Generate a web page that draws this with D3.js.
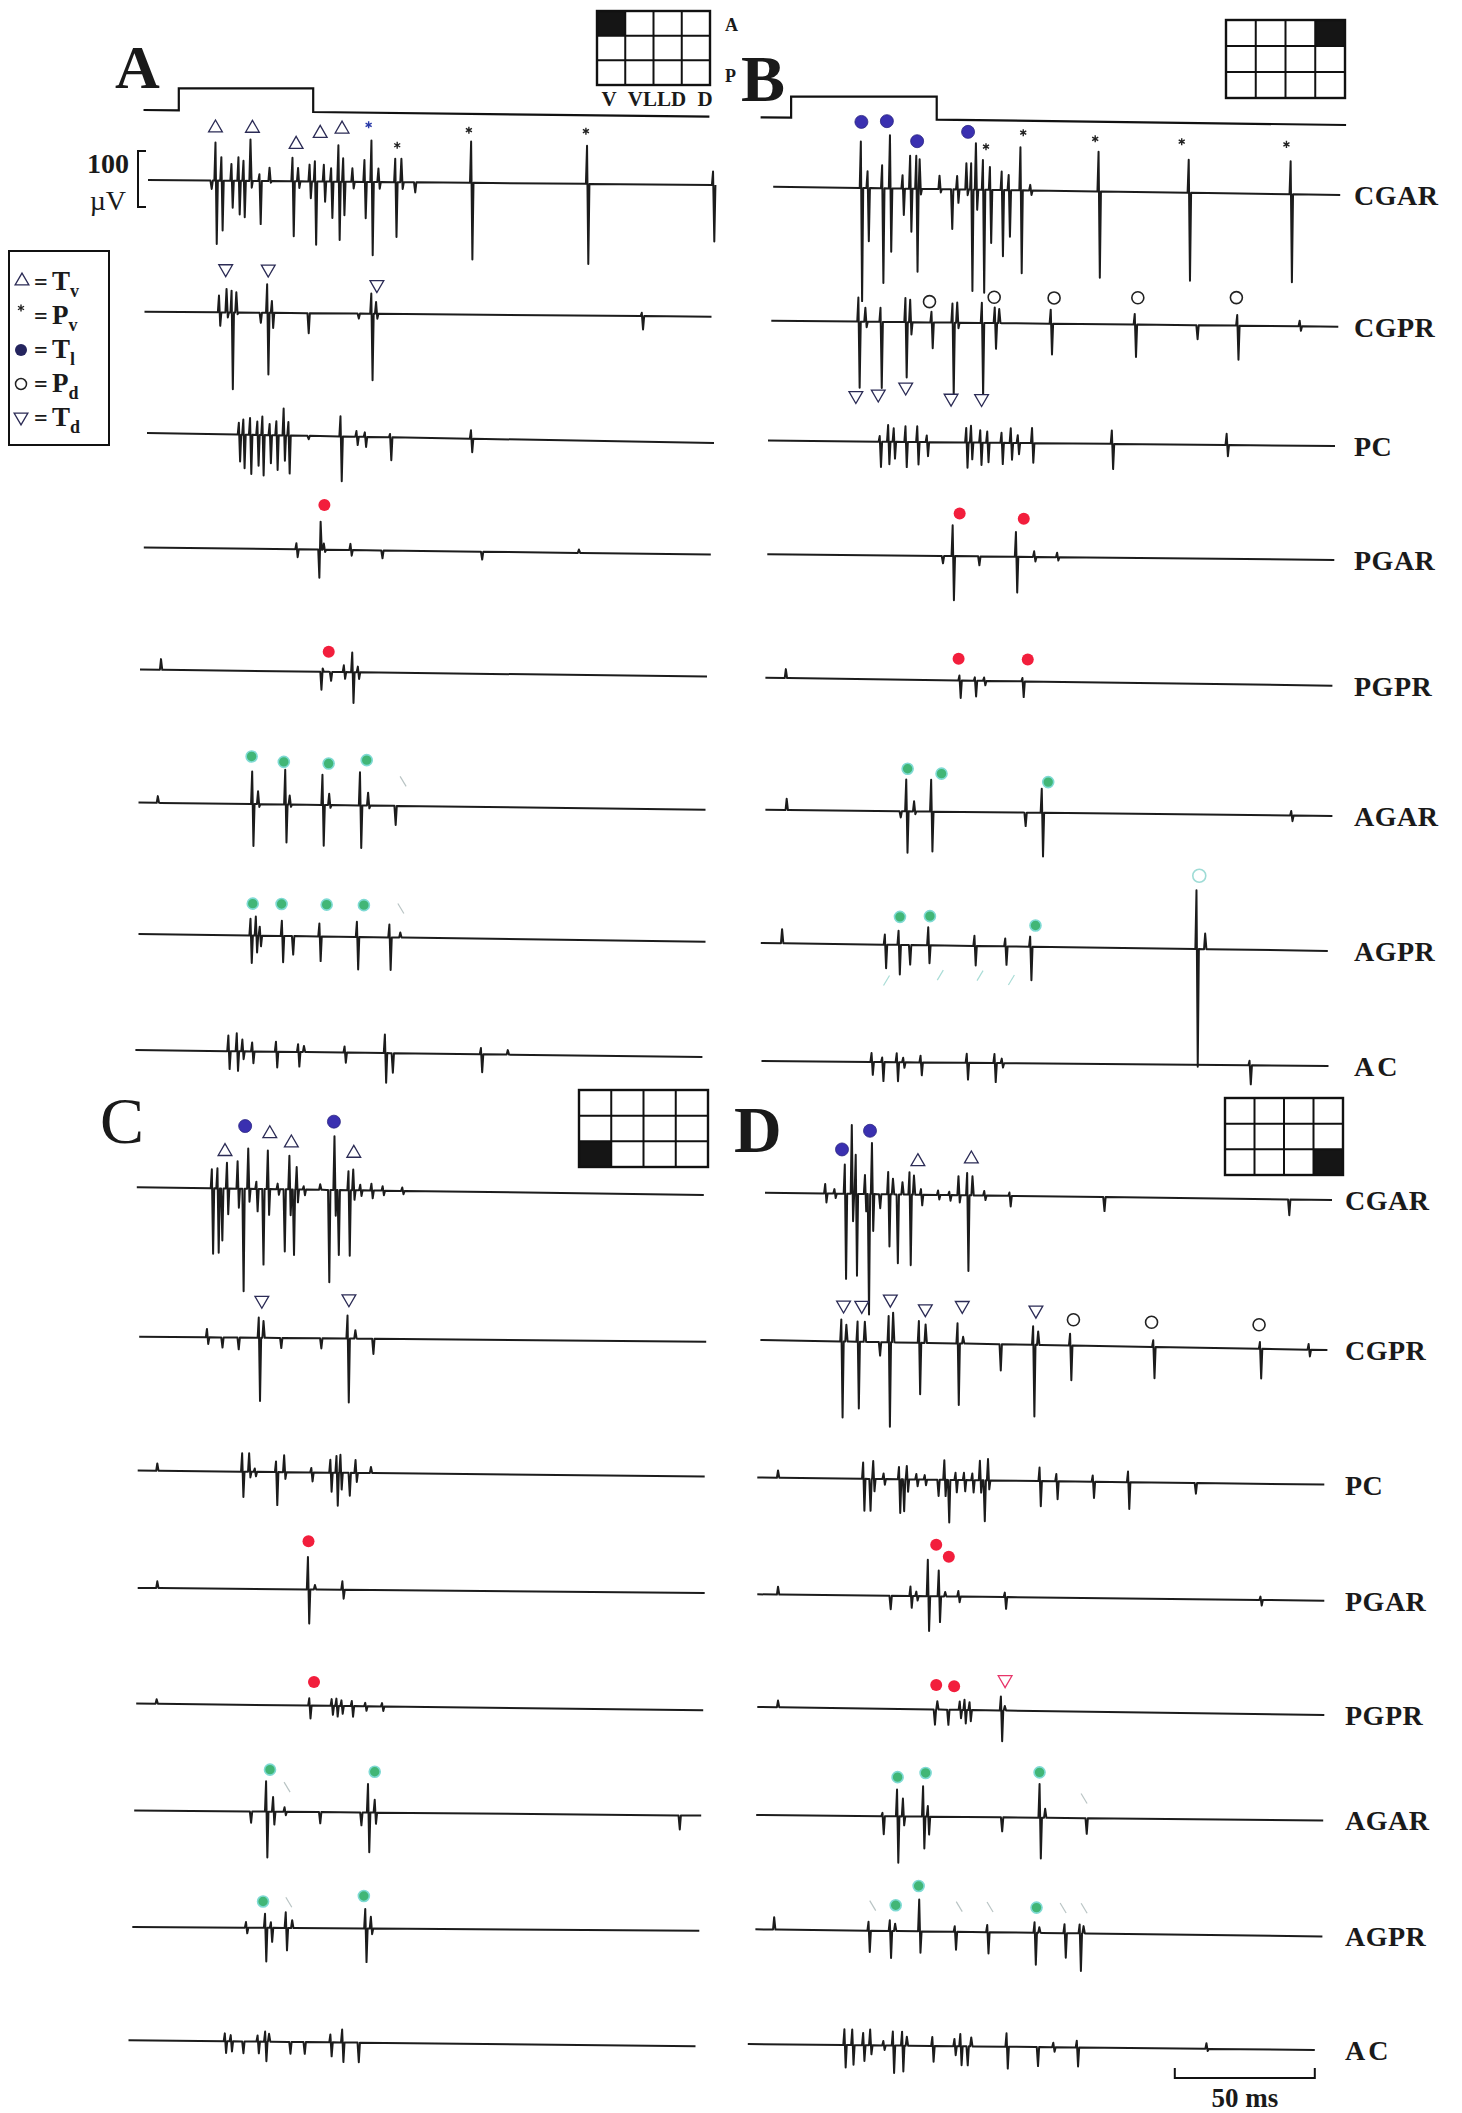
<!DOCTYPE html>
<html>
<head>
<meta charset="utf-8">
<script src="https://cdn.jsdelivr.net/npm/d3@7"></script>
<style>
body { margin: 0; background: #fff; }
svg text { font-family: "Liberation Serif", "Times New Roman", serif; fill: #1a1a1a; }
</style>
</head>
<body>
<div id="chart"></div>
<script>
// --- data: times in ms from trace start, amplitudes in µV (up +, down -) ---
const channels = ["CGAR", "CGPR", "PC", "PGAR", "PGPR", "AGAR", "AGPR", "AC"]
const timeSpan = [0, 202.5]
const scaleBarMs = [152.5, 202.5]
const scaleBarUv = 100
// stimulus step: start, on, off, end (ms)
const stimA = [-1.6, 11, 59, 200.5]
const stimB = [-4.5, 6.4, 58.4, 204.6]
// filled cell of the 3x4 electrode map: [row, col]
const mapCell = { A: [0, 0], B: [0, 3], C: [2, 0], D: [2, 3] }
const mapColLabels = ["V", "VLLD", "D"]
const mapRowLabels = ["A", "P"]

// spikes per channel: [t, first peak, second peak]
const spikesA = [
  [[22.5,0,-15],[24.3,68,-113],[26.4,42,-89],[30,30,-48],[32.5,42,-60],[34.3,36,-65],[36.8,74,-12],[40,12,-77],[43.6,24,-3],[51.8,42,-98],[53.8,24,-12],[57.9,30,-30],[59.8,36,-113],[63,30,-36],[65.6,24,-65],[68.2,65,-104],[69.9,42,-60],[73.2,24,-12],[77.5,39,-65],[80,74,-131],[82.5,24,-12],[88.5,42,-98],[90.7,42,-12],[95.2,0,-18],[115.6,74,-137],[157,68,-143],[202,24,-101]],
  [[26.8,30,-24],[29.5,42,-9],[31.3,39,-137],[33,36,-3],[41.3,0,-18],[44,51,-110],[45.7,21,-27],[58.4,0,-36],[76.3,0,-9],[81.2,36,-119],[82.9,21,-9],[177.8,6,-24]],
  [[33,21,-48],[34.6,27,-60],[37,30,-70],[39.6,24,-55],[41.4,33,-72],[44,20,-50],[46.4,25,-62],[49,48,-45],[50.7,24,-68],[57.5,0,-6],[69.3,36,-80],[75,10,-15],[78,8,-18],[87,6,-41],[115.9,15,-24]],
  [[54.7,11,-14],[62.9,-50,50],[64.5,11,-4],[74,11,-10],[85,0,-14],[120.6,0,-14],[155.6,6,0]],
  [[7.7,19,0],[65,-32,6],[68,0,-16],[73,12,-12],[76,35,-55],[78,10,-12]],
  [[7.1,12,0],[40.8,58,-75],[42.9,23,-5],[52.6,62,-68],[54.2,16,-4],[65.9,54,-73],[68.3,20,-5],[79.3,59,-76],[82.2,23,-5],[91.6,0,-34]],
  [[40.2,30,-49],[42.1,34,-30],[43.5,16,-19],[51.4,27,-47],[55,0,-33],[64.8,23,-44],[78.2,27,-58],[89.8,23,-58],[93.7,9,0]],
  [[33.4,28,-32],[36.4,32,-35],[38.4,21,-14],[41.9,16,-21],[50.4,18,-28],[58.3,14,-26],[60.4,11,0],[74.9,11,-18],[89.3,33,-53],[91.7,0,-35],[123.6,11,-32],[133.2,8,0]]
]
const spikesB = [
  [[31.5,83,-202],[33.9,30,-95],[39.1,41,-169],[41.9,95,-113],[46.4,24,-47],[49.1,59,-77],[51.3,59,-148],[52.5,53,-10],[59.6,24,-6],[63.7,0,-71],[65.9,24,-24],[69.2,47,-10],[70.9,47,-181],[72.6,83,-36],[75.1,53,-184],[77.6,41,-95],[81.8,33,-118],[84.3,27,-83],[88.5,77,-148],[92,10,-8],[116.4,71,-154],[148.6,59,-157],[185,59,-157]],
  [[31.3,43,-118],[33.8,25,-10],[39.2,25,-118],[48.1,43,-99],[49.8,40,-22],[57.4,19,-46],[64.9,34,-130],[66.6,36,-10],[75.4,36,-130],[80,28,-46],[81.6,25,0],[100,25,-55],[130,19,-58],[152,0,-25],[166.6,19,-61],[188.9,10,-8]],
  [[40.1,10,-45],[43.1,30,-40],[45.1,24,-30],[49.3,28,-45],[53.5,28,-40],[56.9,12,-25],[71,26,-45],[72.7,30,-30],[76,22,-40],[78.5,20,-35],[83.6,18,-38],[86.9,26,-30],[89.4,14,-20],[94.5,27,-35],[123,24,-45],[164,20,-20]],
  [[62.5,0,-13],[66.4,55,-79],[75.5,0,-16],[89,44,-64],[95.5,10,-8],[103.7,8,-6]],
  [[7.5,16,0],[69.5,9,-31],[75,6,-28],[78.3,6,-8],[92,6,-28]],
  [[7.8,20,0],[48.1,0,-11],[50.5,57,-74],[53.3,18,-5],[59.4,57,-71],[92.7,0,-24],[98.9,43,-78],[188,8,-10]],
  [[7.8,25,0],[44.5,18,-42],[49.4,25,-53],[53.1,0,-35],[60,32,-32],[76.5,18,-35],[87.5,14,-33],[96.4,18,-60],[155.8,105,-210],[158.9,28,0]],
  [[39.5,16,-23],[43.3,8,-34],[48.5,16,-34],[50.8,8,-10],[57,12,-23],[73.5,16,-30],[83.4,16,-34],[86,8,-8],[174.5,8,-34]]
]
const spikesC = [
  [[27,34,-117],[29,36,-115],[30.3,0,-93],[32.4,46,-46],[36.2,49,-34],[37.9,0,-183],[40,72,-23],[42.9,13,-40],[45,0,-135],[47,69,-46],[50.5,10,-10],[52.6,0,-111],[54.7,60,-46],[55.9,0,-117],[57.3,40,-23],[59.8,6,-10],[65.7,10,0],[68.5,0,-165],[70.8,96,-46],[71.9,0,-116],[75.8,34,-117],[77.5,37,-17],[80,10,-10],[84,12,-14],[88,8,-8],[95,6,-6]],
  [[24.4,15,-12],[29.5,0,-18],[35.3,0,-21],[42.9,36,-113],[44.6,30,0],[50.5,0,-18],[64.8,0,-18],[74.6,41,-114],[77.4,15,0],[83.4,0,-27]],
  [[7.2,13,0],[37.5,33,-45],[40,33,-10],[42,6,-8],[49.6,19,-59],[52.5,30,-12],[62.2,8,-16],[69,23,-34],[71.2,30,-59],[72.6,32,-30],[75.5,0,-41],[78,23,-16],[83.5,11,0]],
  [[7.2,12,0],[61,58,-61],[63.5,8,0],[73.3,15,-16]],
  [[7.5,8,0],[62,13,-23],[70,12,-16],[71.7,13,-19],[73.5,10,-14],[77.2,9,-19],[82,6,-8],[88,6,-8]],
  [[41.5,0,-20],[47.3,54,-82],[49.8,26,-23],[53.9,8,-6],[66.2,0,-20],[80.9,0,-23],[83.7,51,-71],[86.1,23,-20],[194.6,0,-25]],
  [[40.8,10,-10],[47.6,25,-60],[49.7,10,-25],[55,28,-40],[57.3,14,0],[83.4,35,-60],[85.4,21,-10]],
  [[34.6,14,-21],[36.7,11,-18],[40.8,0,-21],[46.3,11,-21],[49,18,-35],[50.4,14,0],[57.6,0,-21],[62.7,0,-21],[72.3,14,-25],[76.5,23,-35],[82,0,-35]]
]
const spikesD = [
  [[21.7,17,-16],[25,8,-8],[28.7,52,-152],[31.2,123,-49],[32.6,70,-146],[35.9,34,-31],[36.9,0,-215],[38.4,91,-66],[40.9,0,-25],[44.2,40,-93],[45.9,28,0],[47.2,0,-123],[49.3,22,0],[51.8,40,-126],[53.4,34,0],[55.9,10,-19],[62,8,-8],[66,6,-10],[69.3,34,-13],[72.4,40,-135],[74.3,34,0],[78.5,8,-8],[87.5,6,-19],[121,0,-25],[187,0,-28]],
  [[29.1,39,-136],[30.9,30,0],[34.9,36,-119],[37.5,36,0],[42.5,0,-24],[46,47,-151],[47.6,53,0],[56.8,39,-92],[59.2,33,0],[70.6,36,-110],[72.6,12,0],[85.6,0,-47],[97.6,33,-128],[99.4,24,0],[110.8,21,-62],[140.5,12,-56],[178.6,12,-53],[196,10,-12]],
  [[7.6,13,0],[38,29,-57],[40.2,0,-57],[41.6,32,-22],[45.3,10,-10],[50.8,22,-60],[52.2,0,-57],[53.6,24,-22],[57,10,-12],[60,8,-10],[64.5,0,-29],[67,35,-29],[68.3,0,-76],[71,13,-22],[74,13,-20],[77,12,-22],[79.7,35,-22],[81,0,-73],[82.6,38,-16],[101,24,-45],[107,13,-32],[120,11,-29],[132.6,19,-48],[156.4,0,-19]],
  [[7.6,14,0],[47.4,0,-24],[54.9,17,-21],[57,8,-8],[61.1,65,-62],[65,46,-46],[67.3,8,0],[72,10,-10],[88.6,8,-21],[179.9,6,-10]],
  [[7.6,12,0],[63.2,0,-27],[64.5,15,0],[68,0,-27],[72.5,15,-15],[74.2,18,-24],[76,14,-20],[87.2,25,-55],[88.6,8,0]],
  [[45.3,6,-32],[50.5,48,-83],[52.6,32,-16],[59.8,54,-57],[61.5,19,-32],[87.6,0,-25],[101.4,60,-73],[103.4,16,0],[117.8,0,-28]],
  [[6.9,22,0],[40.6,16,-38],[48.2,19,-48],[50.1,13,0],[58.7,57,-38],[71.4,10,-32],[83,13,-38],[99.9,19,-57],[101.6,10,0],[110.6,16,-44],[116,16,-67],[117.4,13,0]],
  [[34.7,28,-40],[37.5,28,-35],[41.4,22,-28],[43.9,28,-16],[48.6,8,-8],[52,25,-49],[55.3,25,-46],[57,16,0],[66.1,16,-28],[74,13,-16],[76.1,22,-34],[78.3,0,-34],[80,16,0],[92.6,24,-39],[103.4,0,-34],[109.3,8,-8],[117.7,12,-34],[164,10,-4]]
]

// unit marks: [channel index, t, µV above baseline, type]
const marksA = [
  [0,24.1,94,"Tv"],[0,37.3,94,"Tv"],[0,52.9,66,"Tv"],[0,61.5,86,"Tv"],[0,69.3,94,"Tv"],
  [0,78.8,102,"PvB"],[0,89,66,"Pv"],[0,114.6,94,"Pv"],[0,156.4,94,"Pv"],
  [1,29,78,"Td"],[1,44.2,78,"Td"],[1,83,52,"Td"],
  [3,64.5,80,"red"],[4,67.4,36,"red"],
  [5,40.4,85,"green"],[5,51.9,76,"green"],[5,67.9,74,"green"],[5,81.5,81,"green"],[5,94.5,44,"faint"],
  [6,40.8,57,"green"],[6,51.1,57,"green"],[6,67.2,57,"green"],[6,80.5,57,"green"],[6,93.7,52,"faint"]
]
const marksB = [
  [0,31.5,118,"Tl"],[0,40.6,120,"Tl"],[0,51.4,85,"Tl"],[0,69.6,103,"Tl"],
  [0,76,77,"Pv"],[0,89.3,103,"Pv"],[0,115,94,"Pv"],[0,145.9,91,"Pv"],[0,183.3,89,"Pv"],
  [1,30.2,-132,"Td"],[1,38.2,-129,"Td"],[1,48,-116,"Td"],[1,64.2,-135,"Td"],[1,75.1,-135,"Td"],
  [1,56.5,37,"Pd"],[1,79.6,46,"Pd"],[1,101,46,"Pd"],[1,130.9,48,"Pd"],[1,166.1,50,"Pd"],
  [3,68.7,76,"red"],[3,91.6,68,"red"],
  [4,69,39,"red"],[4,93.7,39,"red"],
  [5,50.8,76,"green"],[5,62.9,68,"green"],[5,101,55,"green"],
  [6,49.7,50,"green"],[6,60.4,52,"green"],[6,98.1,38,"green"],[6,156.6,131,"PdC"],
  [6,44.9,-64,"faintB"],[6,64.1,-53,"faintB"],[6,78.3,-53,"faintB"],[6,89.5,-60,"faintB"]
]
const marksC = [
  [0,38.7,112,"Tl"],[0,70.4,122,"Tl"],
  [0,31.5,66,"Tv"],[0,47.5,99,"Tv"],[0,55.2,83,"Tv"],[0,77.5,66,"Tv"],
  [1,43.8,67,"Td"],[1,74.9,71,"Td"],
  [3,61,86,"red"],[4,63.5,42,"red"],
  [5,48.5,75,"green"],[5,85.9,73,"green"],[5,54.6,44,"faint"],
  [6,46.7,47,"green"],[6,82.7,58,"green"],[6,55.9,46,"faint"]
]
const marksD = [
  [0,27.5,79,"Tl"],[0,37.5,113,"Tl"],
  [0,54.6,59,"Tv"],[0,73.7,65,"Tv"],
  [1,29.7,65,"Td"],[1,36.2,65,"Td"],[1,46.4,77,"Td"],[1,58.9,61,"Td"],[1,72.1,68,"Td"],[1,98.4,62,"Td"],
  [1,111.8,46,"Pd"],[1,139.7,44,"Pd"],[1,178.1,43,"Pd"],
  [3,63.9,92,"red"],[3,68.4,71,"red"],
  [4,63.9,44,"red"],[4,70.3,42,"red"],[4,88.5,55,"TdR"],
  [5,50.5,70,"green"],[5,60.5,78,"green"],[5,101.2,81,"green"],[5,117.1,35,"faint"],
  [6,50.1,46,"green"],[6,58.3,81,"green"],[6,100.4,45,"green"],
  [6,41.9,45,"faint"],[6,72.8,45,"faint"],[6,83.8,45,"faint"],[6,109.9,45,"faint"],[6,117.4,45,"faint"]
]

const legendRows = [["Tv", "T", "v"], ["Pv", "P", "v"], ["Tl", "T", "l"], ["Pd", "P", "d"], ["Td", "T", "d"]]

// --- layout (pixels) ---
const W = 1462, H = 2113
const traceLen = 567
const uvPx = 56 / 100
const panels = [
  { id: "A", spikes: spikesA, marks: marksA,
    x0: [148,144.5,147,143.8,140,138.5,138.5,135.4],
    y0: [180,311.7,433,547.4,669.5,802.6,934,1050],
    y1: [185,316.7,443,554.6,676.6,809.8,941.7,1057],
    letter: [115, 88, 62, "bold"], map: [597, 11, 113, 74], labels: null },
  { id: "B", spikes: spikesB, marks: marksB,
    x0: [773.2,771.3,768,767.3,765.4,765.4,760.8,761.5],
    y0: [186.7,320.7,440.6,554.2,677.8,809.8,942.9,1061],
    y1: [195,326.7,446,560,685.7,816,950.9,1066],
    letter: [741, 101, 66, "bold"], map: [1226, 20, 119, 78], labels: 1354 },
  { id: "C", spikes: spikesC, marks: marksC,
    x0: [136.8,139.2,137.7,137.7,136.2,134.2,132.3,128.5],
    y0: [1187.3,1336.7,1470.6,1587.9,1703.5,1810.4,1926.9,2040.2],
    y1: [1195,1341.7,1476.6,1593,1710.3,1815.6,1930.8,2046.2],
    letter: [100, 1143, 66, "normal"], map: [579, 1090, 129, 77], labels: null },
  { id: "D", spikes: spikesD, marks: marksD,
    x0: [765,760.4,757.3,757.3,757.3,756.2,755.4,747.8],
    y0: [1192.7,1340,1477.5,1594.3,1707,1815,1929.3,2044],
    y1: [1200,1350,1484.6,1600.7,1715,1820.4,1936.4,2050],
    letter: [734, 1152, 66, "bold"], map: [1225, 1098, 118, 77], labels: 1345 }
]

const svg = d3.select("#chart").append("svg")
  .attr("width", W).attr("height", H)

const amp = d3.scaleLinear().domain([0, 100]).range([0, 100 * uvPx])

function traceScales(p, i) {
  const x = d3.scaleLinear().domain(timeSpan).range([p.x0[i], p.x0[i] + traceLen])
  const base = d3.scaleLinear().domain(timeSpan).range([p.y0[i], p.y1[i]])
  return { x, base, y: (t, v) => base(t) - amp(v) }
}

function tracePoints(spk) {
  const pts = [[timeSpan[0], 0]]
  spk.slice().sort((a, b) => a[0] - b[0]).forEach(([t, a1, a2]) => {
    pts.push([t - 0.6, 0], [t - 0.2, a1], [t + 0.25, a2], [t + 0.65, 0])
  })
  pts.push([timeSpan[1], 0])
  // keep time monotonic where spikes overlap
  let last = -Infinity
  return pts.filter(p => { if (p[0] < last) return false; last = p[0]; return true })
}

const star = d3.symbol(d3.symbolAsterisk, 34)
const tri = d3.symbol(d3.symbolTriangle, 82)

function drawMark(g, x, y, type) {
  if (type === "Tv") {
    g.append("path").attr("d", tri()).attr("transform", `translate(${x},${y})`)
      .attr("fill", "#fff").attr("stroke", "#2b2b55").attr("stroke-width", 1.3)
  } else if (type === "Td" || type === "TdR") {
    g.append("path").attr("d", tri()).attr("transform", `translate(${x},${y}) rotate(180)`)
      .attr("fill", "#fff").attr("stroke", type === "TdR" ? "#e8356a" : "#2b2b55").attr("stroke-width", 1.3)
  } else if (type === "Pv" || type === "PvB") {
    g.append("path").attr("d", star()).attr("transform", `translate(${x},${y})`)
      .attr("stroke", type === "PvB" ? "#2a3aa8" : "#222").attr("stroke-width", 1.4)
  } else if (type === "Tl") {
    g.append("circle").attr("cx", x).attr("cy", y).attr("r", 6.5)
      .attr("fill", "#3a30b0").attr("stroke", "#2a2480").attr("stroke-width", 0.8)
  } else if (type === "Pd") {
    g.append("circle").attr("cx", x).attr("cy", y).attr("r", 6)
      .attr("fill", "#fff").attr("stroke", "#222").attr("stroke-width", 1.6)
  } else if (type === "PdC") {
    g.append("circle").attr("cx", x).attr("cy", y).attr("r", 6.5)
      .attr("fill", "none").attr("stroke", "#9fdcd6").attr("stroke-width", 1.6)
  } else if (type === "red") {
    g.append("circle").attr("cx", x).attr("cy", y).attr("r", 6)
      .attr("fill", "#f21e3c")
  } else if (type === "green") {
    g.append("circle").attr("cx", x).attr("cy", y).attr("r", 5.5)
      .attr("fill", "#41b676").attr("stroke", "#7fdad4").attr("stroke-width", 1.6)
  } else if (type === "faint" || type === "faintB") {
    const dx = type === "faintB" ? -3 : 3
    g.append("line").attr("x1", x - dx).attr("y1", y - 5).attr("x2", x + dx).attr("y2", y + 5)
      .attr("stroke", type === "faintB" ? "#a9dcd6" : "#b9c4c4").attr("stroke-width", 1.2)
  }
}

const line = d3.line()

panels.forEach(p => {
  const g = svg.append("g").attr("class", "panel-" + p.id)
  const scales = channels.map((c, i) => traceScales(p, i))

  // traces
  channels.forEach((c, i) => {
    const s = scales[i]
    const pts = tracePoints(p.spikes[i]).map(d => [s.x(d[0]), s.y(d[0], d[1])])
    g.append("path").attr("d", line(pts))
      .attr("fill", "none").attr("stroke", "#1c1c1c")
      .attr("stroke-width", 2).attr("stroke-linejoin", "round")
    if (p.labels) {
      g.append("text").attr("x", p.labels).attr("y", p.y1[i] + 10)
        .attr("font-size", 28).attr("font-weight", "bold")
        .attr("letter-spacing", c === "AC" ? 3 : 0.5)
        .text(c)
    }
  })

  // marks
  p.marks.forEach(([ci, t, v, type]) => {
    const s = scales[ci]
    drawMark(g, s.x(t), s.y(t, v), type)
  })

  // panel letter
  g.append("text").attr("x", p.letter[0]).attr("y", p.letter[1])
    .attr("font-size", p.letter[2]).attr("font-weight", p.letter[3]).text(p.id)

  // electrode map
  const [mx, my, mw, mh] = p.map
  const cw = mw / 4, ch = mh / 3
  const [fr, fc] = mapCell[p.id]
  g.append("rect").attr("x", mx + fc * cw).attr("y", my + fr * ch)
    .attr("width", cw).attr("height", ch).attr("fill", "#151515")
  for (let k = 1; k < 4; k++) {
    g.append("line").attr("x1", mx + k * cw).attr("x2", mx + k * cw)
      .attr("y1", my).attr("y2", my + mh).attr("stroke", "#111").attr("stroke-width", 2)
  }
  for (let k = 1; k < 3; k++) {
    g.append("line").attr("x1", mx).attr("x2", mx + mw)
      .attr("y1", my + k * ch).attr("y2", my + k * ch).attr("stroke", "#111").attr("stroke-width", 2)
  }
  g.append("rect").attr("x", mx).attr("y", my).attr("width", mw).attr("height", mh)
    .attr("fill", "none").attr("stroke", "#111").attr("stroke-width", 2.4)

  // stimulus step above the top trace
  const stim = p.id === "A" ? stimA : p.id === "B" ? stimB : null
  if (stim) {
    const s = scales[0]
    const low = p.id === "A" ? d3.scaleLinear().domain([stim[0], stim[3]]).range([110, 116.7])
                             : d3.scaleLinear().domain([stim[0], stim[3]]).range([117.3, 125])
    const high = p.id === "A" ? 88.3 : 96.7
    const stepPts = [
      [s.x(stim[0]), low(stim[0])], [s.x(stim[1]), low(stim[1])], [s.x(stim[1]), high],
      [s.x(stim[2]), high], [s.x(stim[2]), low(stim[2])], [s.x(stim[3]), low(stim[3])]
    ]
    g.append("path").attr("d", line(stepPts)).attr("fill", "none")
      .attr("stroke", "#111").attr("stroke-width", 2.2)
  }
})

// electrode map labels (panel A)
const mapA = panels[0].map
svg.append("text").attr("x", 725).attr("y", 31).attr("font-size", 18).attr("font-weight", "bold").text(mapRowLabels[0])
svg.append("text").attr("x", 725).attr("y", 82).attr("font-size", 18).attr("font-weight", "bold").text(mapRowLabels[1])
const colX = [609, 657, 705]
mapColLabels.forEach((t, i) => {
  svg.append("text").attr("x", colX[i]).attr("y", mapA[1] + mapA[3] + 21)
    .attr("text-anchor", "middle").attr("font-size", 21).attr("font-weight", "bold").text(t)
})

// 100 µV calibration bracket
const sA = traceScales(panels[0], 0)
const bx = 138
const by0 = sA.base(0) - amp(scaleBarUv / 2) - 1, by1 = sA.base(0) + amp(scaleBarUv / 2) - 1
svg.append("path").attr("d", line([[bx + 8, by0], [bx, by0], [bx, by1], [bx + 8, by1]]))
  .attr("fill", "none").attr("stroke", "#111").attr("stroke-width", 2)
svg.append("text").attr("x", 129).attr("y", 173).attr("text-anchor", "end")
  .attr("font-size", 28).attr("font-weight", "bold").text("100")
svg.append("text").attr("x", 126).attr("y", 210).attr("text-anchor", "end")
  .attr("font-size", 28).text("µV")

// legend
svg.append("rect").attr("x", 9).attr("y", 251).attr("width", 100).attr("height", 194)
  .attr("fill", "#fff").attr("stroke", "#111").attr("stroke-width", 2)
const legendY = [290, 324, 358, 392, 426]
legendRows.forEach(([type, main, sub], i) => {
  const y = legendY[i]
  const sym = svg.append("g")
  if (type === "Tv") drawMark(sym, 22, y - 9, "Tv")
  if (type === "Pv") drawMark(sym, 21, y - 16, "Pv")
  if (type === "Tl") sym.append("circle").attr("cx", 21).attr("cy", y - 8).attr("r", 6).attr("fill", "#24245e")
  if (type === "Pd") sym.append("circle").attr("cx", 21).attr("cy", y - 8).attr("r", 5.5).attr("fill", "#fff").attr("stroke", "#222").attr("stroke-width", 1.5)
  if (type === "Td") drawMark(sym, 21, y - 9, "Td")
  svg.append("text").attr("x", 34).attr("y", y).attr("font-size", 24).attr("font-weight", "bold").text("=")
  const tx = svg.append("text").attr("x", 52).attr("y", y).attr("font-size", 27).attr("font-weight", "bold")
  tx.append("tspan").text(main)
  tx.append("tspan").attr("dy", 7).attr("font-size", 18).text(sub)
})

// 50 ms scale bar under panel D
const sD = traceScales(panels[3], 7)
const sbY = 2078
svg.append("path")
  .attr("d", line([[sD.x(scaleBarMs[0]), sbY - 10], [sD.x(scaleBarMs[0]), sbY], [sD.x(scaleBarMs[1]), sbY], [sD.x(scaleBarMs[1]), sbY - 10]]))
  .attr("fill", "none").attr("stroke", "#111").attr("stroke-width", 2)
svg.append("text").attr("x", (sD.x(scaleBarMs[0]) + sD.x(scaleBarMs[1])) / 2).attr("y", 2107)
  .attr("text-anchor", "middle").attr("font-size", 27).attr("font-weight", "bold")
  .text((scaleBarMs[1] - scaleBarMs[0]) + " ms")
</script>
</body>
</html>
